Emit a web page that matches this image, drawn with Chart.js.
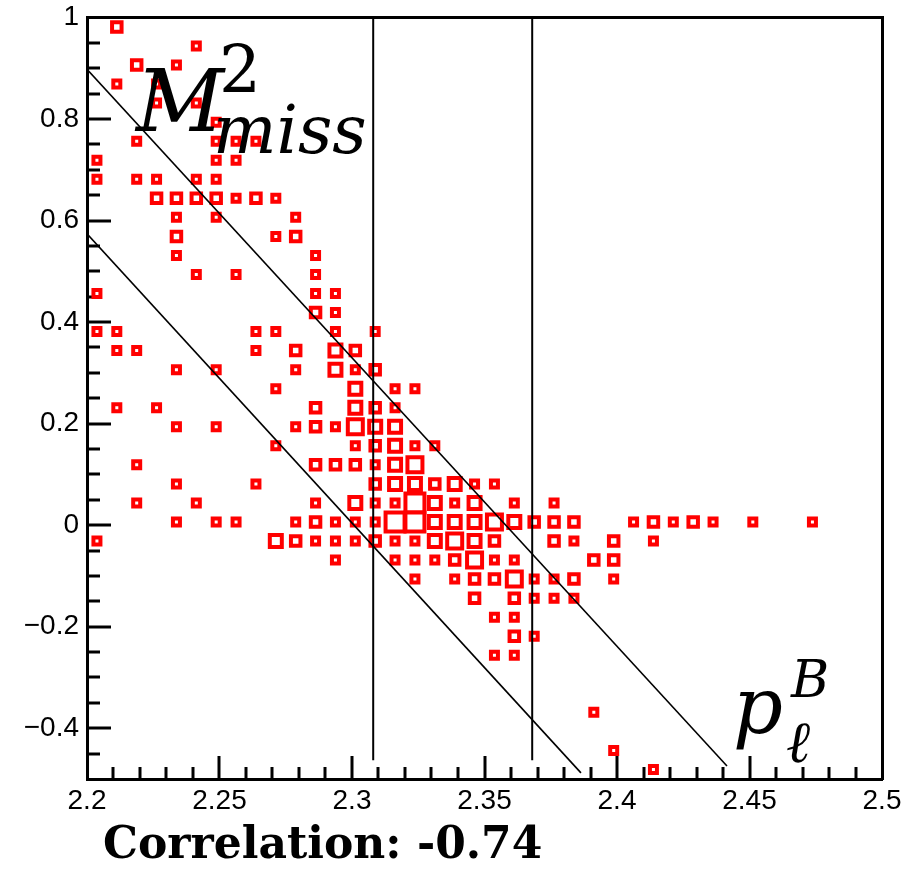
<!DOCTYPE html>
<html>
<head>
<meta charset="utf-8">
<title>M2miss vs p_l^B</title>
<script src="https://cdn.jsdelivr.net/npm/chart.js@4.4.1/dist/chart.umd.min.js"></script>
<style>
  html, body { margin: 0; padding: 0; background: #fff; }
  #wrap { width: 902px; height: 869px; position: relative; }
</style>
</head>
<body>
<div id="wrap"><canvas id="corr" width="902" height="869"></canvas></div>
<script>
/* ===== data (bin centres of the 40x40 histogram, box weight) ===== */
const plB = [
  2.21125,
  2.24125,
  2.21875, 2.23375,
  2.21125, 2.22625,
  2.22625, 2.24125,
  2.24875,
  2.21875, 2.24875, 2.25625, 2.26375,
  2.20375, 2.24875, 2.25625,
  2.20375, 2.21875, 2.22625, 2.24125, 2.24875,
  2.22625, 2.23375, 2.24125, 2.24875, 2.25625, 2.26375, 2.27125,
  2.23375, 2.24875, 2.27875,
  2.23375, 2.27125, 2.27875,
  2.23375, 2.28625,
  2.24125, 2.25625, 2.28625,
  2.20375, 2.28625, 2.29375,
  2.28625, 2.29375,
  2.20375, 2.21125, 2.26375, 2.27125, 2.29375, 2.30875,
  2.21125, 2.21875, 2.26375, 2.27875, 2.29375, 2.30125,
  2.23375, 2.24875, 2.27875, 2.29375, 2.30125, 2.30875,
  2.27125, 2.30125, 2.31625, 2.32375,
  2.21125, 2.22625, 2.28625, 2.30125, 2.30875, 2.31625,
  2.23375, 2.24875, 2.27875, 2.28625, 2.29375, 2.30125, 2.30875, 2.31625,
  2.27125, 2.30125, 2.30875, 2.31625, 2.32375, 2.33125,
  2.21875, 2.28625, 2.29375, 2.30125, 2.30875, 2.31625, 2.32375,
  2.23375, 2.26375, 2.30875, 2.31625, 2.32375, 2.33125, 2.33875, 2.34625, 2.35375,
  2.21875, 2.24125, 2.28625, 2.30125, 2.30875, 2.31625, 2.32375, 2.33125, 2.33875, 2.34625, 2.36125, 2.37625,
  2.23375, 2.24875, 2.25625, 2.27875, 2.28625, 2.29375, 2.30125, 2.30875, 2.31625, 2.32375, 2.33125, 2.33875,
  2.34625, 2.35375, 2.36125, 2.36875, 2.37625, 2.38375, 2.40625, 2.41375, 2.42125, 2.42875, 2.43625, 2.45125, 2.47375,
  2.20375, 2.27125, 2.27875, 2.28625, 2.29375, 2.30125, 2.30875, 2.31625, 2.32375, 2.33125, 2.33875, 2.34625,
  2.35375, 2.37625, 2.38375, 2.39875, 2.41375,
  2.29375, 2.31625, 2.32375, 2.33125, 2.33875, 2.34625, 2.35375, 2.36125, 2.39125, 2.39875,
  2.32375, 2.33875, 2.34625, 2.35375, 2.36125, 2.36875, 2.37625, 2.38375, 2.39875,
  2.34625, 2.36125, 2.36875, 2.37625, 2.38375,
  2.35375, 2.36125,
  2.36125, 2.36875,
  2.35375, 2.36125,
  2.39125,
  2.39875,
  2.41375
];
const m2miss = [
  0.98125,
  0.94375,
  0.90625, 0.90625,
  0.86875, 0.86875,
  0.83125, 0.83125,
  0.79375,
  0.75625, 0.75625, 0.75625, 0.75625,
  0.71875, 0.71875, 0.71875,
  0.68125, 0.68125, 0.68125, 0.68125, 0.68125,
  0.64375, 0.64375, 0.64375, 0.64375, 0.64375, 0.64375, 0.64375,
  0.60625, 0.60625, 0.60625,
  0.56875, 0.56875, 0.56875,
  0.53125, 0.53125,
  0.49375, 0.49375, 0.49375,
  0.45625, 0.45625, 0.45625,
  0.41875, 0.41875,
  0.38125, 0.38125, 0.38125, 0.38125, 0.38125, 0.38125,
  0.34375, 0.34375, 0.34375, 0.34375, 0.34375, 0.34375,
  0.30625, 0.30625, 0.30625, 0.30625, 0.30625, 0.30625,
  0.26875, 0.26875, 0.26875, 0.26875,
  0.23125, 0.23125, 0.23125, 0.23125, 0.23125, 0.23125,
  0.19375, 0.19375, 0.19375, 0.19375, 0.19375, 0.19375, 0.19375, 0.19375,
  0.15625, 0.15625, 0.15625, 0.15625, 0.15625, 0.15625,
  0.11875, 0.11875, 0.11875, 0.11875, 0.11875, 0.11875, 0.11875,
  0.08125, 0.08125, 0.08125, 0.08125, 0.08125, 0.08125, 0.08125, 0.08125, 0.08125,
  0.04375, 0.04375, 0.04375, 0.04375, 0.04375, 0.04375, 0.04375, 0.04375, 0.04375, 0.04375, 0.04375, 0.04375,
  0.00625, 0.00625, 0.00625, 0.00625, 0.00625, 0.00625, 0.00625, 0.00625, 0.00625, 0.00625, 0.00625, 0.00625,
  0.00625, 0.00625, 0.00625, 0.00625, 0.00625, 0.00625, 0.00625, 0.00625, 0.00625, 0.00625, 0.00625, 0.00625, 0.00625,
  -0.03125, -0.03125, -0.03125, -0.03125, -0.03125, -0.03125, -0.03125, -0.03125, -0.03125, -0.03125, -0.03125, -0.03125,
  -0.03125, -0.03125, -0.03125, -0.03125, -0.03125,
  -0.06875, -0.06875, -0.06875, -0.06875, -0.06875, -0.06875, -0.06875, -0.06875, -0.06875, -0.06875,
  -0.10625, -0.10625, -0.10625, -0.10625, -0.10625, -0.10625, -0.10625, -0.10625, -0.10625,
  -0.14375, -0.14375, -0.14375, -0.14375, -0.14375,
  -0.18125, -0.18125,
  -0.21875, -0.21875,
  -0.25625, -0.25625,
  -0.36875,
  -0.44375,
  -0.48125
];
// relative box size, 1 = smallest box
const boxW = [
  2,
  1,
  2, 1,
  1, 1,
  1, 1,
  1,
  1, 1, 1, 1,
  1, 1, 1,
  1, 1, 1, 1, 1,
  2, 2, 2, 2, 1, 2, 1,
  1, 1, 1,
  2, 1, 2,
  1, 1,
  1, 1, 1,
  1, 1, 1,
  2, 1,
  1, 1, 1, 1, 1, 1,
  1, 1, 1, 2, 3, 2,
  1, 1, 1, 3, 1, 2,
  1, 3, 1, 1,
  1, 1, 2, 3, 2, 1,
  1, 1, 1, 2, 1, 4, 3, 3,
  1, 1, 2, 3, 1, 1,
  1, 2, 2, 2, 1, 3, 4,
  1, 1, 2, 3, 3, 2, 3, 1, 1,
  1, 1, 1, 3, 1, 1, 5, 3, 1, 3, 1, 1,
  1, 1, 1, 1, 2, 1, 1, 1, 5, 5, 3, 3,
  3, 4, 3, 2, 2, 2, 1, 2, 1, 2, 1, 1, 1,
  1, 3, 2, 1, 1, 1, 2, 1, 1, 3, 4, 3,
  2, 2, 1, 2, 1,
  1, 1, 1, 1, 2, 4, 1, 1, 2, 2,
  1, 1, 2, 2, 4, 1, 1, 2, 1,
  2, 2, 1, 1, 1,
  1, 1,
  2, 1,
  1, 1,
  1,
  1,
  1
];

// cut lines (end points)
const cutLow = [[2.2, 0.574], [2.3864, -0.488]];
const cutHigh = [[2.2, 0.898], [2.4415, -0.4745]];
const cutLeft = [[2.308, -0.463], [2.308, 1.0]];
const cutRight = [[2.368, -0.463], [2.368, 1.0]];

const xTicks = [2.2, 2.25, 2.3, 2.35, 2.4, 2.45, 2.5];
const xTickLabels = ["2.2", "2.25", "2.3", "2.35", "2.4", "2.45", "2.5"];
const yTicks = [-0.4, -0.2, 0, 0.2, 0.4, 0.6, 0.8, 1];
const yTickLabels = ["\u22120.4", "\u22120.2", "0", "0.2", "0.4", "0.6", "0.8", "1"];

const corrText = "Correlation: -0.74";

/* ===== drawing ===== */
const RED = "#ff0000";
const SIDE = [0, 7, 9.5, 12, 15, 19]; // box side per weight
const pts = plB.map((x, k) => ({ x, y: m2miss[k] }));
const seg = a => a.map(p => ({ x: p[0], y: p[1] }));

const lineSet = (data, w) => ({
  type: "line", data: seg(data), borderColor: "#000", borderWidth: w,
  pointRadius: 0, fill: false, tension: 0, order: 0
});

// ROOT-like inner ticks, drawn through the scales
const innerTicks = {
  id: "innerTicks",
  beforeDatasetsDraw(chart) {
    const { ctx, chartArea: a, scales: { x, y } } = chart;
    ctx.save();
    ctx.strokeStyle = "#000";
    ctx.lineWidth = 3;
    for (let k = 1; k < 30; k++) {
      const px = Math.round(x.getPixelForValue(2.2 + k * 0.01));
      const len = k % 5 === 0 ? 23 : 12;
      ctx.beginPath(); ctx.moveTo(px, a.bottom); ctx.lineTo(px, a.bottom - len); ctx.stroke();
    }
    for (let k = 1; k < 30; k++) {
      const py = Math.round(y.getPixelForValue(-0.5 + k * 0.05));
      const len = k % 4 === 2 ? 24 : 13;
      ctx.beginPath(); ctx.moveTo(a.left, py); ctx.lineTo(a.left + len, py); ctx.stroke();
    }
    ctx.restore();
  }
};

// axis titles written inside the frame + correlation note
const labels = {
  id: "labels",
  afterDraw(chart) {
    const ctx = chart.ctx;
    ctx.save();
    ctx.fillStyle = "#000";
    ctx.textBaseline = "alphabetic";
    ctx.textAlign = "left";
    ctx.font = 'italic 86px "DejaVu Serif"';
    ctx.fillText("M", 136, 131);
    ctx.font = '66px "DejaVu Serif"';
    ctx.fillText("2", 219, 92);
    ctx.font = 'italic 67px "DejaVu Serif"';
    ctx.fillText("miss", 213, 153);
    ctx.font = 'italic 78px "DejaVu Serif"';
    ctx.fillText("p", 733, 733);
    ctx.font = 'italic 52px "DejaVu Serif"';
    ctx.fillText("B", 791, 697);
    ctx.font = 'italic 58px "DejaVu Serif"';
    ctx.fillText("\u2113", 786, 762);
    ctx.font = 'bold 44px "DejaVu Serif"';
    ctx.fillText(corrText, 103, 858);
    ctx.restore();
  }
};

const tickFont = { family: '"Liberation Sans", Arial, sans-serif', size: 28, lineHeight: 1 };
const bare = { display: false, drawTicks: false };
// keep the frame where the reference has it: labels may overhang the plot edges
const noPadX = s => { s.paddingLeft = 0; s.paddingRight = 0; };
const noPadY = s => { s.paddingTop = 0; s.paddingBottom = 0; };

new Chart(document.getElementById("corr"), {
  type: "scatter",
  data: {
    datasets: [
      lineSet(cutLow, 1.6),
      lineSet(cutHigh, 1.6),
      lineSet(cutLeft, 2),
      lineSet(cutRight, 2),
      {
        data: pts, order: 1,
        pointStyle: "rect",
        backgroundColor: "#fff",
        borderColor: RED,
        borderWidth: 4,
        radius: c => SIDE[boxW[c.dataIndex]] / Math.SQRT2,
        hoverRadius: c => SIDE[boxW[c.dataIndex]] / Math.SQRT2
      }
    ]
  },
  options: {
    responsive: false,
    animation: false,
    devicePixelRatio: 1,
    layout: { padding: 0 },
    plugins: { legend: { display: false }, tooltip: { enabled: false } },
    scales: {
      x: {
        type: "linear", position: "bottom", min: 2.2, max: 2.5,
        afterBuildTicks: s => { s.ticks = xTicks.map(v => ({ value: v })); },
        afterFit: s => { s.height = 90; noPadX(s); },
        grid: bare,
        border: { display: true, width: 3, color: "#000" },
        ticks: { font: tickFont, color: "#000", padding: 8, maxRotation: 0, autoSkip: false,
          callback: (v, i) => xTickLabels[i] }
      },
      y: {
        type: "linear", position: "left", min: -0.5, max: 1,
        afterBuildTicks: s => { s.ticks = yTicks.map(v => ({ value: v })); },
        afterFit: s => { s.width = 87; noPadY(s); },
        grid: bare,
        border: { display: true, width: 3, color: "#000" },
        ticks: { font: tickFont, color: "#000", padding: 8, autoSkip: false,
          callback: (v, i) => yTickLabels[i] }
      },
      x2: {
        type: "linear", position: "top", display: true,
        afterFit: s => { s.height = 15; noPadX(s); },
        grid: bare, ticks: { display: false },
        border: { display: true, width: 3, color: "#000" }
      },
      y2: {
        type: "linear", position: "right", display: true,
        afterFit: s => { s.width = 20; noPadY(s); },
        grid: bare, ticks: { display: false },
        border: { display: true, width: 3, color: "#000" }
      }
    }
  },
  plugins: [innerTicks, labels]
});
</script>
</body>
</html>
